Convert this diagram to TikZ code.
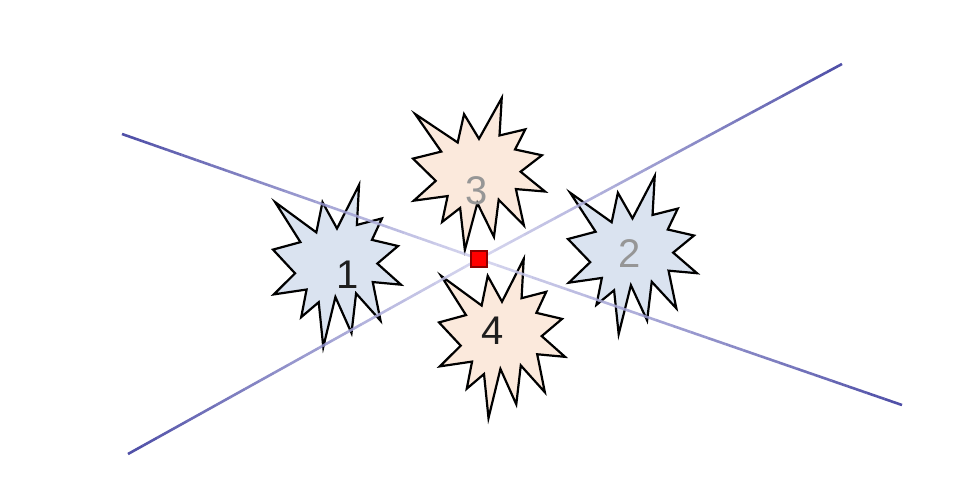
\documentclass[tikz,border=0pt]{standalone}
\usepackage{fontspec}
\setmainfont{Liberation Sans}
\usetikzlibrary{calc}
\definecolor{bluefill}{RGB}{218,227,240}
\definecolor{peachfill}{RGB}{251,233,220}
\definecolor{lineend}{RGB}{45,45,150}
\definecolor{linemid}{RGB}{205,205,235}
\definecolor{digitgray}{RGB}{150,150,150}
\definecolor{digitdark}{RGB}{30,30,30}
\tikzset{
  burst/.style={draw=black, line width=2.2pt, line join=miter, miter limit=20},
  digit/.style={font=\fontsize{40}{40}\selectfont, inner sep=0pt},
  seg/.style={line width=2.6pt, line cap=butt, opacity=0.85},
  marker/.style={draw=red!55!black, fill=red, line width=1.2pt, minimum size=16pt, inner sep=0pt},
}
% explosion outline in a 216 x 216 box, top-left origin
\newcommand\myseal[6]{%
  \begin{scope}[shift={(#3,#4)}, xscale=#5/216, yscale=#6/216]
    \coordinate (#1) at (108,108);
    \draw[burst, fill=#2] (108,58) -- (145.22,0) -- (141.55,53.25) -- (183.80,44.57)
      -- (167.02,73.15) -- (210.97,81.37) -- (176.07,104.75) -- (216,132.90)
      -- (168.37,129.42) -- (181.45,180.95) -- (140.20,144.57) -- (132.47,197.37)
      -- (105.32,149.35) -- (84.85,216) -- (77.15,156.27) -- (47.62,176.17)
      -- (56.67,139.37) -- (1.35,145.87) -- (37.22,117.75) -- (0,86.15)
      -- (46.27,76.17) -- (3.70,22.95) -- (73.12,63.20) -- (83.52,22.95) -- cycle;
  \end{scope}}
\begin{document}
\begin{tikzpicture}[x=1pt,y=-1pt]
\useasboundingbox (0,0) rectangle (953,495);
\coordinate (A1) at (122,134);
\coordinate (A2) at (902,405);
\coordinate (B1) at (128,454);
\coordinate (B2) at (842,64);
\coordinate (X) at (479,259);
\myseal{s1}{bluefill}{273}{185}{128}{162}
\myseal{s2}{bluefill}{568}{176}{129}{158}
\myseal{s3}{peachfill}{413}{98}{132}{152}
\myseal{s4}{peachfill}{439}{259}{126}{159}
\node[digit, text=digitdark] (t1) at (348,275) {1};
\node[digit, text=digitgray] (t2) at (630,254) {2};
\node[digit, text=digitgray] (t3) at (477,191) {3};
\node[digit, text=digitdark] (t4) at (493,331) {4};
\foreach \e in {A1,A2,B1,B2}{
  \foreach \i in {0,...,23}{
    \pgfmathsetmacro{\ta}{\i/24}
    \pgfmathsetmacro{\tb}{(\i+1)/24}
    \pgfmathtruncatemacro{\p}{100*((\i+0.5)/24)^1.2}
    \draw[seg, draw=lineend!\p!linemid] ($(X)!\ta!(\e)$) -- ($(X)!\tb!(\e)$);
  }
}
\node[marker] (m) at (X) {};
\end{tikzpicture}
\end{document}
